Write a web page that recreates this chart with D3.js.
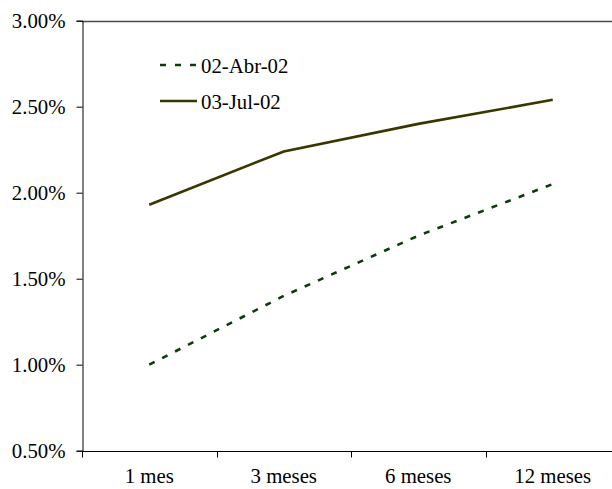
<!DOCTYPE html>
<html>
<head>
<meta charset="utf-8">
<script src="https://cdn.jsdelivr.net/npm/d3@7"></script>
<style>
  html, body { margin: 0; padding: 0; background: #fff; }
  svg { display: block; }
  text { font-family: "Liberation Serif", "Times New Roman", serif; fill: #000; }
</style>
</head>
<body>
<svg id="chart" width="612" height="489"></svg>
<script>
const categories = ["1 mes", "3 meses", "6 meses", "12 meses"];
const seriesNames = ["02-Abr-02", "03-Jul-02"];
const seriesApr = [1.00, 1.40, 1.75, 2.05];
const seriesJul = [1.93, 2.24, 2.40, 2.54];
const yTicks = [0.5, 1.0, 1.5, 2.0, 2.5, 3.0];

(function () {
const svg = d3.select("#chart");
const W = 612;
const pLeft = 82, pRight = 620, pTop = 20.7, pBottom = 450.7;
const fontSize = "20.8px";
const serif = "'Liberation Serif', 'Times New Roman', serif";

const x = d3.scaleBand().domain(categories).range([pLeft, pRight]).padding(0);
const y = d3.scaleLinear().domain([0.5, 3.0]).range([pBottom, pTop]);

const g = svg.append("g");

// top plot border
g.append("line")
  .attr("x1", pLeft).attr("x2", W)
  .attr("y1", Math.round(pTop) + 0.5).attr("y2", Math.round(pTop) + 0.5)
  .attr("stroke", "#4a4a4a").attr("stroke-width", 1.5);

// Y axis
const yAxis = d3.axisLeft(y).tickValues(yTicks)
  .tickFormat(d => d3.format(".2f")(d) + "%")
  .tickSize(6).tickPadding(11);
const yG = g.append("g").attr("transform", `translate(${Math.round(pLeft) + 0.5},0)`).call(yAxis)
  .attr("font-family", serif);
yG.select(".domain").attr("stroke", "#000");
yG.selectAll(".tick line").attr("stroke", "#000");
yG.selectAll(".tick text").style("font-size", fontSize).attr("dy", "0.33em")
  .style("font-family", serif);

// X axis
const xG = g.append("g").attr("transform", `translate(0,${Math.round(pBottom) + 0.5})`);
xG.append("line").attr("x1", pLeft).attr("x2", W).attr("y1", 0).attr("y2", 0).attr("stroke", "#000");
xG.selectAll(".xtick").data(categories).enter().append("line")
  .attr("class", "xtick")
  .attr("x1", d => Math.round(x(d)) + 0.5).attr("x2", d => Math.round(x(d)) + 0.5)
  .attr("y1", 0).attr("y2", 6).attr("stroke", "#000");
xG.selectAll(".xlabel").data(categories).enter().append("text")
  .attr("class", "xlabel")
  .attr("x", d => x(d) + x.bandwidth() / 2)
  .attr("y", 31)
  .attr("text-anchor", "middle")
  .style("font-size", fontSize)
  .style("font-family", serif)
  .text(d => d);

const line = d3.line()
  .x((d, i) => x(categories[i]) + x.bandwidth() / 2)
  .y(d => y(d));

// series
g.append("path").datum(seriesApr)
  .attr("d", line).attr("fill", "none")
  .attr("stroke", "#0b3d0b").attr("stroke-width", 2.6)
  .attr("stroke-dasharray", "6,8.5");

g.append("path").datum(seriesJul)
  .attr("d", line).attr("fill", "none")
  .attr("stroke", "#3a3600").attr("stroke-width", 2.6);

// legend
const legend = g.append("g");
const legendItems = [
  { name: seriesNames[0], color: "#0b3d0b", dash: "6,9", ly: 65 },
  { name: seriesNames[1], color: "#3a3600", dash: null, ly: 101 }
];
legendItems.forEach(it => {
  legend.append("line")
    .attr("x1", 160).attr("x2", 197).attr("y1", it.ly).attr("y2", it.ly)
    .attr("stroke", it.color).attr("stroke-width", 2.6)
    .attr("stroke-dasharray", it.dash);
  legend.append("text")
    .attr("x", 201).attr("y", it.ly + 7.5)
    .style("font-size", fontSize)
    .style("font-family", serif)
    .text(it.name);
});
})();
</script>
</body>
</html>
